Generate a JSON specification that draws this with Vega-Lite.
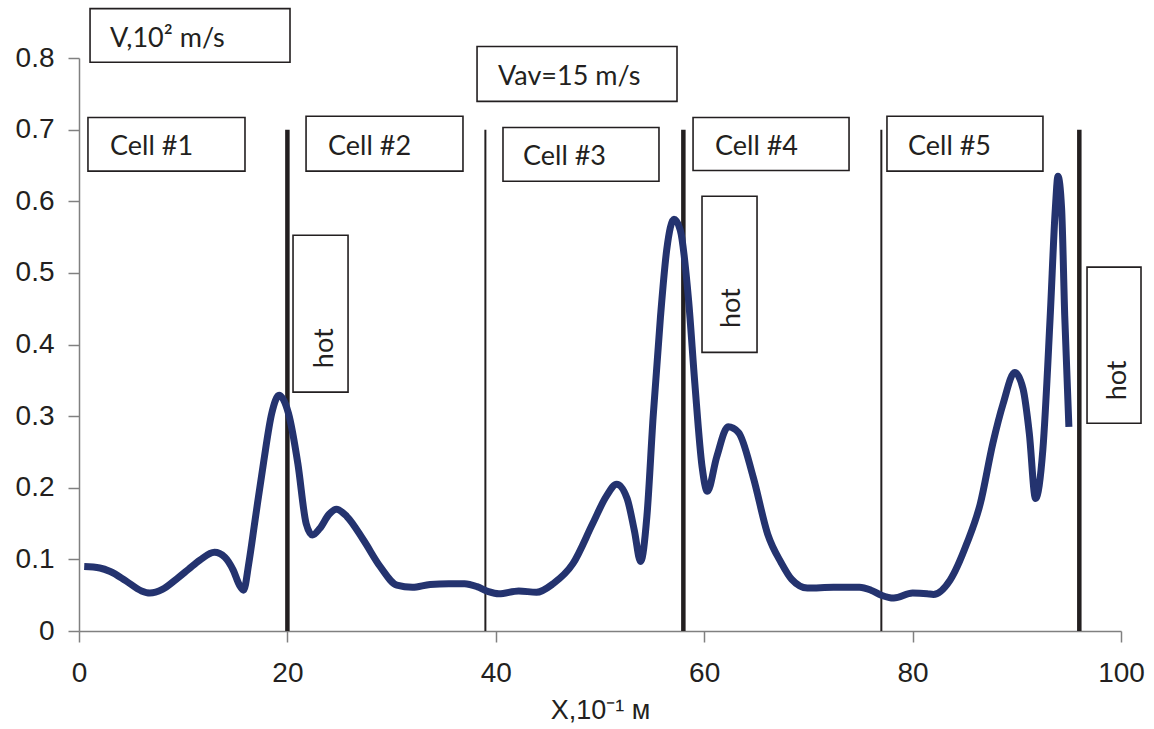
{
  "$schema": "https://vega.github.io/schema/vega-lite/v6.json",
  "autosize": "none",
  "padding": {"left": 79, "top": 58, "right": 33, "bottom": 98},
  "width": 1042,
  "height": 573,
  "background": "white",
  "config": {"view": {"stroke": null}},
  "datasets": {
    "curve": [
      {"x": 0.5, "v": 0.090}, {"x": 2, "v": 0.088}, {"x": 3, "v": 0.083}, {"x": 4.5, "v": 0.070},
      {"x": 6, "v": 0.056}, {"x": 6.8, "v": 0.053}, {"x": 8, "v": 0.058}, {"x": 9.4, "v": 0.073},
      {"x": 10.5, "v": 0.086}, {"x": 11.6, "v": 0.099}, {"x": 13, "v": 0.110}, {"x": 14, "v": 0.103},
      {"x": 14.8, "v": 0.085}, {"x": 15.4, "v": 0.064}, {"x": 15.8, "v": 0.057}, {"x": 16.3, "v": 0.095},
      {"x": 16.9, "v": 0.155}, {"x": 17.7, "v": 0.234}, {"x": 18.5, "v": 0.304}, {"x": 19.2, "v": 0.329},
      {"x": 20.1, "v": 0.304}, {"x": 21.0, "v": 0.234}, {"x": 21.8, "v": 0.150}, {"x": 22.4, "v": 0.134},
      {"x": 23.1, "v": 0.143}, {"x": 24.0, "v": 0.163}, {"x": 24.7, "v": 0.170}, {"x": 25.7, "v": 0.160},
      {"x": 27.3, "v": 0.127}, {"x": 28.9, "v": 0.090}, {"x": 30.5, "v": 0.064}, {"x": 32.0, "v": 0.061},
      {"x": 33.7, "v": 0.065}, {"x": 35.5, "v": 0.066}, {"x": 37, "v": 0.066}, {"x": 38.2, "v": 0.062},
      {"x": 39.3, "v": 0.055}, {"x": 40.3, "v": 0.052}, {"x": 42.2, "v": 0.056}, {"x": 43.9, "v": 0.054},
      {"x": 45.5, "v": 0.066}, {"x": 47.4, "v": 0.094}, {"x": 49.3, "v": 0.150}, {"x": 50.6, "v": 0.188},
      {"x": 51.6, "v": 0.205}, {"x": 52.6, "v": 0.185}, {"x": 53.3, "v": 0.140}, {"x": 53.9, "v": 0.097},
      {"x": 54.5, "v": 0.160}, {"x": 55.1, "v": 0.299}, {"x": 55.8, "v": 0.438}, {"x": 56.4, "v": 0.532},
      {"x": 57.1, "v": 0.575}, {"x": 57.7, "v": 0.560}, {"x": 58.5, "v": 0.462}, {"x": 59.1, "v": 0.346},
      {"x": 59.8, "v": 0.229}, {"x": 60.3, "v": 0.195}, {"x": 61.2, "v": 0.243}, {"x": 62.3, "v": 0.285},
      {"x": 63.3, "v": 0.277}, {"x": 64.7, "v": 0.215}, {"x": 66.1, "v": 0.135}, {"x": 67.4, "v": 0.095},
      {"x": 68.4, "v": 0.072}, {"x": 69.9, "v": 0.060}, {"x": 72.4, "v": 0.061}, {"x": 74.9, "v": 0.061},
      {"x": 76.0, "v": 0.057}, {"x": 77.0, "v": 0.050}, {"x": 78.2, "v": 0.046}, {"x": 80.0, "v": 0.053},
      {"x": 81.4, "v": 0.052}, {"x": 82.0, "v": 0.051}, {"x": 83.6, "v": 0.071}, {"x": 85.2, "v": 0.122},
      {"x": 86.5, "v": 0.178}, {"x": 87.7, "v": 0.262}, {"x": 88.7, "v": 0.318}, {"x": 89.8, "v": 0.361},
      {"x": 90.6, "v": 0.338}, {"x": 91.2, "v": 0.276}, {"x": 91.8, "v": 0.185}, {"x": 92.5, "v": 0.253},
      {"x": 93.2, "v": 0.438}, {"x": 93.7, "v": 0.590}, {"x": 93.95, "v": 0.635}, {"x": 94.3, "v": 0.590},
      {"x": 94.6, "v": 0.440}, {"x": 95.0, "v": 0.285}
    ],
    "borders": [
      {"x": 20, "kind": "thick", "bottom": 0, "top": 0.70},
      {"x": 39, "kind": "thin", "bottom": 0, "top": 0.70},
      {"x": 58, "kind": "thick", "bottom": 0, "top": 0.70},
      {"x": 77, "kind": "thin", "bottom": 0, "top": 0.70},
      {"x": 96, "kind": "thick", "bottom": 0, "top": 0.70}
    ],
    "boxes": [
      {"label": "V,10² m/s", "kind": "h", "x1": 1.06, "x2": 20.25, "v1": 0.794, "v2": 0.869, "tx": 2.98, "tv": 0.815},
      {"label": "Vav=15 m/s", "kind": "h", "x1": 38.2, "x2": 57.39, "v1": 0.7395, "v2": 0.816, "tx": 40.21, "tv": 0.762},
      {"label": "Cell #1", "kind": "h", "x1": 0.86, "x2": 15.93, "v1": 0.642, "v2": 0.717, "tx": 2.98, "tv": 0.664},
      {"label": "Cell #2", "kind": "h", "x1": 21.79, "x2": 36.85, "v1": 0.642, "v2": 0.7186, "tx": 23.9, "tv": 0.664},
      {"label": "Cell #3", "kind": "h", "x1": 40.69, "x2": 55.66, "v1": 0.628, "v2": 0.703, "tx": 42.61, "tv": 0.65},
      {"label": "Cell #4", "kind": "h", "x1": 58.93, "x2": 73.9, "v1": 0.643, "v2": 0.717, "tx": 61.04, "tv": 0.664},
      {"label": "Cell #5", "kind": "h", "x1": 77.54, "x2": 92.51, "v1": 0.642, "v2": 0.7186, "tx": 79.56, "tv": 0.664},
      {"label": "hot", "kind": "v", "x1": 20.54, "x2": 25.82, "v1": 0.3335, "v2": 0.5525, "tx": 24.38, "tv": 0.367},
      {"label": "hot", "kind": "v", "x1": 59.79, "x2": 65.07, "v1": 0.389, "v2": 0.607, "tx": 63.44, "tv": 0.423},
      {"label": "hot", "kind": "v", "x1": 96.74, "x2": 101.92, "v1": 0.29, "v2": 0.508, "tx": 100.48, "tv": 0.322}
    ]
  },
  "encoding": {
    "x": {"type": "quantitative", "scale": {"domain": [0, 100], "nice": false},
      "axis": {"values": [0, 20, 40, 60, 80, 100], "title": "X,10⁻¹ м", "grid": false, "labelFlush": false,
        "domainColor": "#808080", "domainWidth": 1.5, "tickColor": "#808080", "tickWidth": 1.5, "tickSize": 11,
        "labelFont": "Liberation Sans", "labelFontSize": 28, "labelColor": "#231f20", "labelPadding": 17,
        "titleFont": "Liberation Sans", "titleFontSize": 27, "titleFontWeight": "normal", "titleColor": "#231f20", "titlePadding": 10}},
    "y": {"type": "quantitative", "scale": {"domain": [0, 0.8], "nice": false},
      "axis": {"values": [0, 0.1, 0.2, 0.3, 0.4, 0.5, 0.6, 0.7, 0.8], "title": null, "grid": false, "labelFlush": false,
        "labelExpr": "datum.value == 0 ? '0' : format(datum.value, '.1f')",
        "domainColor": "#808080", "domainWidth": 1.5, "tickColor": "#808080", "tickWidth": 1.5, "tickSize": 11,
        "labelFont": "Liberation Sans", "labelFontSize": 28, "labelColor": "#231f20", "labelPadding": 14}}
  },
  "layer": [
    {
      "data": {"name": "borders"},
      "transform": [{"filter": "datum.kind == 'thick'"}],
      "mark": {"type": "rule", "color": "#231f20", "strokeWidth": 4.5},
      "encoding": {
        "x": {"field": "x", "type": "quantitative"},
        "y": {"field": "bottom", "type": "quantitative"},
        "y2": {"field": "top"}
      }
    },
    {
      "data": {"name": "borders"},
      "transform": [{"filter": "datum.kind == 'thin'"}],
      "mark": {"type": "rule", "color": "#231f20", "strokeWidth": 2},
      "encoding": {
        "x": {"field": "x", "type": "quantitative"},
        "y": {"field": "bottom", "type": "quantitative"},
        "y2": {"field": "top"}
      }
    },
    {
      "data": {"name": "boxes"},
      "mark": {"type": "rect", "fill": "white", "stroke": "#231f20", "strokeWidth": 1.6},
      "encoding": {
        "x": {"field": "x1", "type": "quantitative"},
        "x2": {"field": "x2"},
        "y": {"field": "v1", "type": "quantitative"},
        "y2": {"field": "v2"}
      }
    },
    {
      "data": {"name": "boxes"},
      "transform": [{"filter": "datum.kind == 'h'"}],
      "mark": {"type": "text", "align": "left", "baseline": "alphabetic", "font": "Lato", "fontSize": 27, "color": "#231f20"},
      "encoding": {
        "x": {"field": "tx", "type": "quantitative"},
        "y": {"field": "tv", "type": "quantitative"},
        "text": {"field": "label"}
      }
    },
    {
      "data": {"name": "boxes"},
      "transform": [{"filter": "datum.kind == 'v'"}],
      "mark": {"type": "text", "align": "left", "baseline": "alphabetic", "angle": 270, "font": "Lato", "fontSize": 27, "color": "#231f20"},
      "encoding": {
        "x": {"field": "tx", "type": "quantitative"},
        "y": {"field": "tv", "type": "quantitative"},
        "text": {"field": "label"}
      }
    },
    {
      "data": {"name": "curve"},
      "mark": {"type": "line", "color": "#24336f", "strokeWidth": 7, "interpolate": "monotone", "strokeCap": "butt"},
      "encoding": {
        "x": {"field": "x", "type": "quantitative"},
        "y": {"field": "v", "type": "quantitative"}
      }
    }
  ]
}
